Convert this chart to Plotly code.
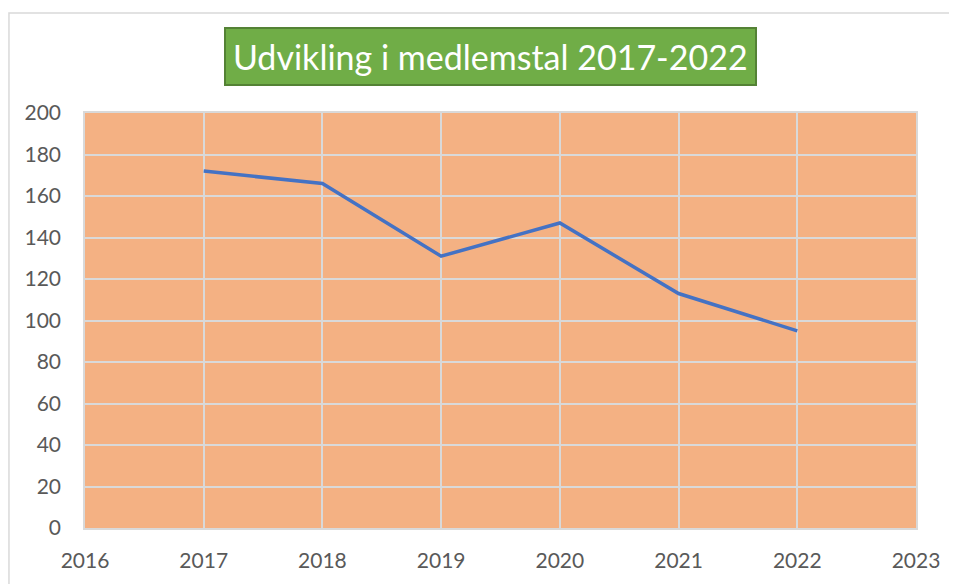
import plotly.graph_objects as go

years = [2017, 2018, 2019, 2020, 2021, 2022]
members = [172, 166, 131, 147, 113, 95]
x_ticks = [2016, 2017, 2018, 2019, 2020, 2021, 2022, 2023]
y_ticks = [0, 20, 40, 60, 80, 100, 120, 140, 160, 180, 200]
title_text = "Udvikling i medlemstal 2017-2022"

fig = go.Figure()
fig.add_trace(go.Scatter(x=years, y=members, mode="lines",
                         line=dict(color="#4472C4", width=3.5),
                         hoverinfo="x+y"))

font_family = "Lato, Open Sans, sans-serif"
fig.update_layout(
    width=949, height=576,
    margin=dict(l=77, r=41, t=105, b=56),
    paper_bgcolor="white",
    plot_bgcolor="#F4B183",
    showlegend=False,
    font=dict(family=font_family, size=21, color="#595959"),
    xaxis=dict(range=[2016, 2023], tickvals=x_ticks, ticktext=[str(v) for v in x_ticks],
               showgrid=True, gridcolor="#D9D9D9", gridwidth=1.5,
               zeroline=False, showline=True, linecolor="#D9D9D9", linewidth=1.5,
               mirror=True, ticks="outside", ticklen=13, tickcolor="rgba(0,0,0,0)",
               fixedrange=True),
    yaxis=dict(range=[0, 200], tickvals=y_ticks,
               showgrid=True, gridcolor="#D9D9D9", gridwidth=1.5,
               zeroline=False, showline=True, linecolor="#D9D9D9", linewidth=1.5,
               mirror=True, ticks="outside", ticklen=18, tickcolor="rgba(0,0,0,0)",
               fixedrange=True),
    shapes=[dict(type="rect", xref="paper", yref="paper",
                 x0=-0.0915, x1=1.2, y0=-0.4, y1=1.241,
                 line=dict(color="#D9D9D9", width=1.5), fillcolor="rgba(0,0,0,0)",
                 layer="below")],
    annotations=[dict(text=title_text, xref="paper", yref="paper",
                      x=0.4874, y=1.137, xanchor="center", yanchor="middle",
                      showarrow=False,
                      font=dict(family=font_family, size=34, color="white"),
                      bgcolor="#70AD47", bordercolor="#548235", borderwidth=2,
                      borderpad=7)],
)

fig.write_html("out.html")
